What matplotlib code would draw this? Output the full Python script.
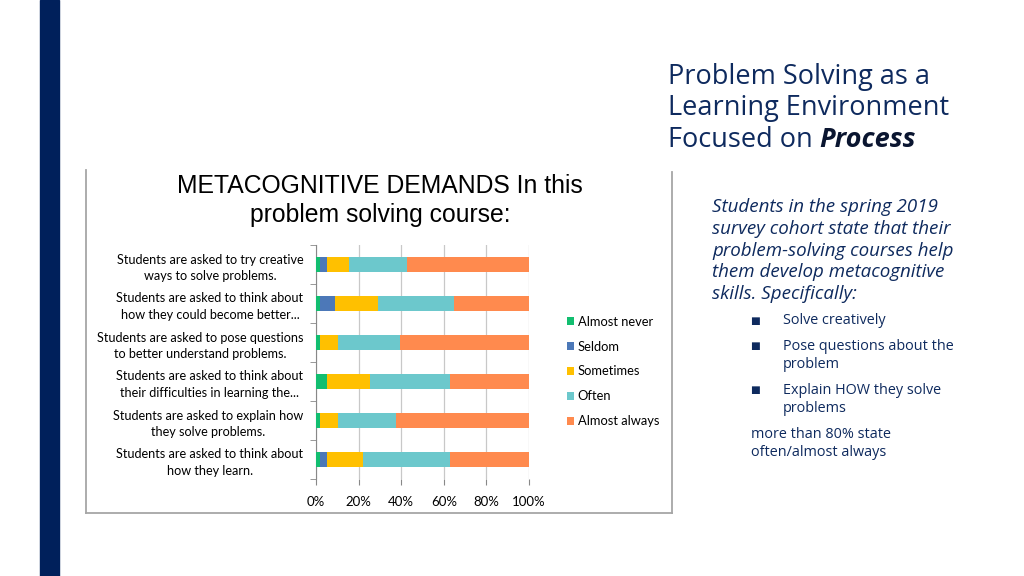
import numpy as np
import matplotlib.pyplot as plt
from matplotlib.lines import Line2D
from matplotlib.patches import Rectangle

# survey data (percent of students)
categories = [
    'Students are asked to try creative\nways to solve problems.',
    'Students are asked to think about\nhow they could become better...',
    'Students are asked to pose questions\nto better understand problems.',
    'Students are asked to think about\ntheir difficulties in learning the...',
    'Students are asked to explain how\nthey solve problems.',
    'Students are asked to think about\nhow they learn.',
]
almost_never = [2.0, 2.0, 1.9, 5.3, 1.9, 1.9]
seldom = [3.3, 6.8, 0.0, 0.0, 0.0, 3.4]
sometimes = [10.3, 20.2, 8.4, 20.2, 8.4, 16.9]
often = [27.0, 35.8, 29.1, 37.4, 27.1, 40.7]
almost_always = [57.4, 35.2, 60.6, 37.1, 62.6, 37.1]
series_names = ['Almost never', 'Seldom', 'Sometimes', 'Often', 'Almost always']
colors = ['#12BE70', '#4C78B8', '#FFC000', '#6CC8CC', '#FF8A4E']
x_ticks = [0, 20, 40, 60, 80, 100]

navy = '#0E2A5E'
label_font = 'Lato'

fig = plt.figure(figsize=(10.24, 5.76), dpi=100)
W, H = 1024, 576

def fx(px):
    return px / W

def fy(py):
    return 1 - py / H

# left navy band
fig.patches.append(Rectangle((fx(40), 0), fx(19), 1, transform=fig.transFigure,
                             color='#00205B', zorder=0))

# chart frame (no top edge)
frame_kw = dict(transform=fig.transFigure, color='#A6A6A6', lw=1.3)
fig.lines.append(Line2D([fx(86), fx(86)], [fy(170), fy(513)], **frame_kw))
fig.lines.append(Line2D([fx(86), fx(672)], [fy(513), fy(513)], **frame_kw))
fig.lines.append(Line2D([fx(672), fx(672)], [fy(172), fy(513)], **frame_kw))

# stacked bars
ax = fig.add_axes([fx(316), fy(479), fx(213), (479 - 245) / H])
y = np.arange(len(categories))
data = [almost_never, seldom, sometimes, often, almost_always]
left = np.zeros(len(categories))
for vals, name, c in zip(data, series_names, colors):
    ax.barh(y, vals, left=left, height=0.38, color=c, label=name, zorder=3)
    left += np.array(vals)

ax.set_xlim(0, 100)
ax.set_ylim(len(categories) - 0.5, -0.5)
ax.set_xticks(x_ticks)
ax.set_xticklabels([f'{t}%' for t in x_ticks], fontsize=9.5, family=label_font)
ax.set_yticks(y)
ax.set_yticklabels(categories, fontsize=9.1, family=label_font,
                   multialignment='center', linespacing=1.45)
for lab in ax.get_yticklabels():
    lab.set_y(lab.get_position()[1])
ax.set_yticks(np.arange(len(categories) + 1) - 0.5, minor=True)
ax.tick_params(axis='y', which='major', length=0, pad=9)
ax.tick_params(axis='y', which='minor', length=4, color='#888888', direction='out')
ax.tick_params(axis='x', length=4, color='#888888', pad=8)
ax.grid(axis='x', color='#C8C8C8', lw=0.9, zorder=0)
for s in ['top', 'right', 'bottom']:
    ax.spines[s].set_visible(False)
ax.spines['left'].set_color('#888888')

fig.legend(loc='upper left', bbox_to_anchor=(fx(555), fy(304)), frameon=False,
           prop={'family': label_font, 'size': 9.3}, handlelength=0.6,
           handleheight=0.6, handletextpad=0.25, labelspacing=1.0)

# chart title
fig.text(fx(380), fy(186), 'METACOGNITIVE DEMANDS In this', ha='center', va='center',
         fontsize=17.8, family='Liberation Sans')
fig.text(fx(380), fy(215), 'problem solving course:', ha='center', va='center',
         fontsize=17.8, family='Liberation Sans')

# slide heading
head_font = 'Open Sans'
fig.text(fx(668), fy(77), 'Problem Solving as a', va='center', fontsize=19.5,
         family=head_font, color=navy)
fig.text(fx(668), fy(108), 'Learning Environment', va='center', fontsize=19.5,
         family=head_font, color=navy)
t = fig.text(fx(668), fy(140), 'Focused on ', va='center', fontsize=19.5,
             family=head_font, color=navy)
r = fig.canvas.get_renderer()
bb = t.get_window_extent(renderer=r)
fig.text(bb.x1 / W, fy(140), 'Process', va='center', fontsize=19.5,
         family=head_font, color='#0A1530', style='italic', weight='bold')

# body text
body = ['Students in the spring 2019', 'survey cohort state that their',
        'problem-solving courses help', 'them develop metacognitive',
        'skills. Specifically:']
for i, line in enumerate(body):
    fig.text(fx(712), fy(207 + 21.8 * i), line, va='center', fontsize=13.5,
             family=head_font, style='italic', color=navy)

bullets = [(321, ['Solve creatively']),
           (346, ['Pose questions about the', 'problem']),
           (390, ['Explain HOW they solve', 'problems'])]
for yy, lines in bullets:
    fig.text(fx(755), fy(yy), '\u25A0', va='center', ha='center', fontsize=7.5,
             family='DejaVu Sans', color=navy)
    for j, line in enumerate(lines):
        fig.text(fx(783), fy(yy + 18 * j), line, va='center', fontsize=10.4,
                 family=head_font, color=navy)

fig.text(fx(751), fy(434), 'more than 80% state', va='center', fontsize=10.4,
         family=head_font, color=navy)
fig.text(fx(751), fy(452), 'often/almost always', va='center', fontsize=10.4,
         family=head_font, color=navy)

plt.savefig('out.png', dpi=100)
